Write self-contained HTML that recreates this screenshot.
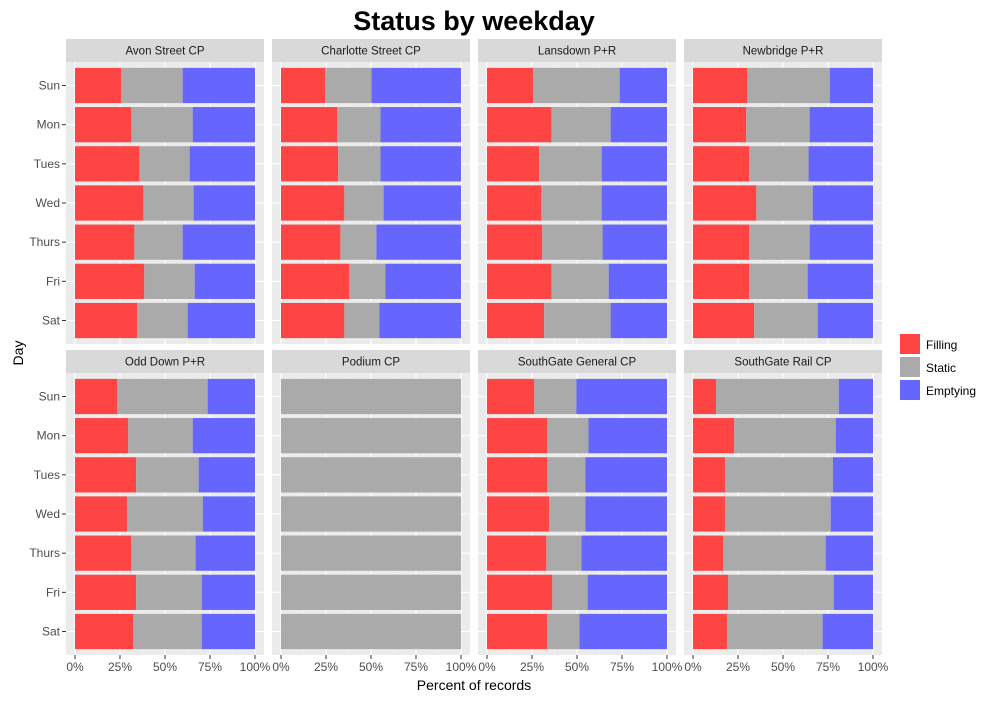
<!DOCTYPE html>
<html><head><meta charset="utf-8"><style>
body{margin:0;background:#fff;}
svg text{font-family:"Liberation Sans",Arial,sans-serif;}
</style></head><body>
<svg id="chart" width="1000" height="700" xmlns="http://www.w3.org/2000/svg">
<text x="474" y="30" text-anchor="middle" font-size="27" font-weight="bold" fill="#000">Status by weekday</text>
<text x="474" y="690" text-anchor="middle" font-size="14" fill="#000">Percent of records</text>
<text transform="translate(23,353) rotate(-90)" text-anchor="middle" font-size="14" fill="#000">Day</text>
<g id="panels"></g>
<g id="legend"></g>
</svg>
<script>
const days = ["Sun","Mon","Tues","Wed","Thurs","Fri","Sat"];
const carParks = ["Avon Street CP","Charlotte Street CP","Lansdown P+R","Newbridge P+R","Odd Down P+R","Podium CP","SouthGate General CP","SouthGate Rail CP"];
const seriesNames = ["Filling","Static","Emptying"];
const xTicks = [0,25,50,75,100];
// filling %, per car park, per day
const filling = [
 [25.7,31.3,35.8,38,33,38.5,34.6],
 [24.6,31.3,31.8,35.2,33,38,35.2],
 [25.7,35.8,29,30.2,30.7,35.8,31.8],
 [30.2,29.6,31.3,35.2,31.3,31.3,34],
 [23.5,29.6,34,29,31.3,34,32.4],
 [0,0,0,0,0,0,0],
 [26.3,33.5,33.5,34.6,33,36.3,33.5],
 [12.8,22.9,17.9,17.9,16.8,19.6,19]
];
// static %, per car park, per day
const staticPct = [
 [34.1,34.1,27.9,27.9,26.8,28,28],
 [25.7,24,23.5,21.8,20,20,19.5],
 [48,32.9,34.7,33.5,33.5,31.8,36.9],
 [45.8,35.2,32.9,31.3,33.5,32.4,35.3],
 [50.2,35.8,34.7,42,35.7,36.4,38],
 [100,100,100,100,100,100,100],
 [23.4,22.9,21.2,20.1,19.5,19.6,17.9],
 [68.2,56.4,59.8,58.6,56.9,58.6,53]
];
const colors = ["#FF4444","#AAAAAA","#6666FF"];
const NS="http://www.w3.org/2000/svg";
function mk(tag,attrs,parent){const e=document.createElementNS(NS,tag);for(const k in attrs)e.setAttribute(k,attrs[k]);parent.appendChild(e);return e;}
const panelsG=document.getElementById('panels');
const colX=[66,272,478,684], PW=198;
const rowTop=[62,373], PH=282, stripH=23;
carParks.forEach((name,pi)=>{
  const c=pi%4, r=Math.floor(pi/4);
  const px=colX[c], py=rowTop[r];
  const g=mk('g',{},panelsG);
  
  
  const strip=mk('rect',{x:px,y:py-stripH,width:PW,height:stripH,fill:'#D9D9D9'},g);
  
  
  const st=mk('text',{x:px+PW/2,y:py-stripH/2+4,'text-anchor':'middle','font-size':'11.5',fill:'#1A1A1A'},g);
  st.textContent=name;
  
  
  const bg=mk('rect',{x:px,y:py,width:PW,height:PH,fill:'#EBEBEB'},g);
  
  
  const x0=px+9, xw=180;
  const xs=v=>x0+v/100*xw;
  const step=PH/7.2;
  const ys=i=>py+step*(0.6+i);
  for(let k=0;k<4;k++){mk('line',{x1:xs(12.5+25*k),x2:xs(12.5+25*k),y1:py,y2:py+PH,stroke:'#F5F5F5','stroke-width':0.6},g);}
  xTicks.forEach(t=>{mk('line',{x1:xs(t),x2:xs(t),y1:py,y2:py+PH,stroke:'#fff','stroke-width':1.1},g);});
  days.forEach((d,i)=>{mk('line',{x1:px,x2:px+PW,y1:ys(i),y2:ys(i),stroke:'#fff','stroke-width':1.1},g);});
  days.forEach((d,i)=>{
    const f=filling[pi][i], s=staticPct[pi][i];
    const vals=[f,s,Math.max(0,100-f-s)];
    let acc=0;
    vals.forEach((v,k)=>{
      if(v>0){
        const b=mk('rect',{x:xs(acc),y:ys(i)-step*0.45,width:xs(acc+v)-xs(acc),height:step*0.9,fill:colors[k]},g);
        
        
      }
      acc+=v;
    });
  });
  if(c===0){
    days.forEach((d,i)=>{
      mk('line',{x1:px-4,x2:px,y1:ys(i),y2:ys(i),stroke:'#333','stroke-width':1},g);
      const t=mk('text',{x:px-6,y:ys(i)+4,'text-anchor':'end','font-size':'12',fill:'#4D4D4D'},g);
      t.textContent=d;
      
      
    });
  }
  if(r===1){
    xTicks.forEach(tv=>{
      mk('line',{x1:xs(tv),x2:xs(tv),y1:py+PH,y2:py+PH+4,stroke:'#333','stroke-width':1},g);
      const t=mk('text',{x:xs(tv),y:py+PH+16,'text-anchor':'middle','font-size':'12',fill:'#4D4D4D'},g);
      t.textContent=tv+'%';
      
      
    });
  }
});
const lg=document.getElementById('legend');
seriesNames.forEach((n,k)=>{
  const y=334+k*23;
  const rct=mk('rect',{x:900,y:y,width:20,height:20,fill:colors[k]},lg);
  
  
  const t=mk('text',{x:926,y:y+15,'font-size':'12',fill:'#000'},lg);
  t.textContent=n;
  
  
});
</script>
</body></html>
